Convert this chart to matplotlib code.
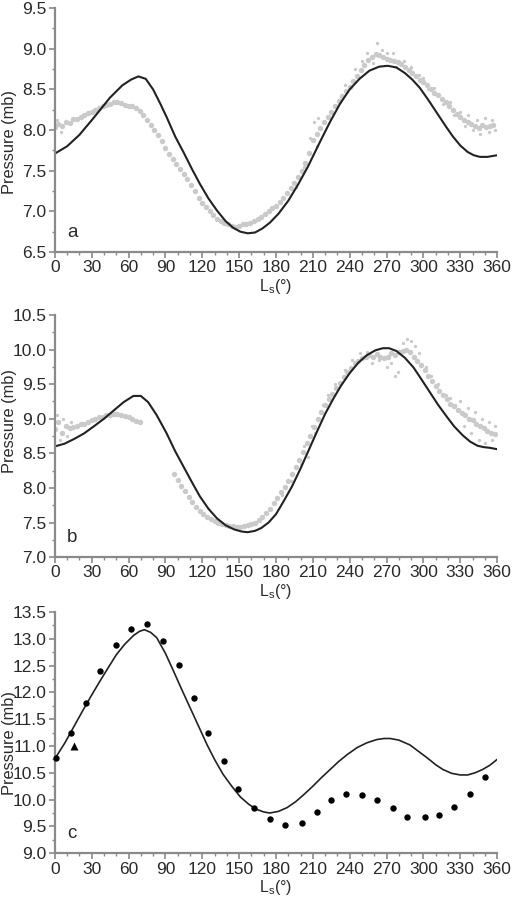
import numpy as np
import matplotlib
matplotlib.use("Agg")
import matplotlib.pyplot as plt
from matplotlib.ticker import MultipleLocator, FormatStrFormatter

plt.rcParams['font.family'] = ['Liberation Sans', 'DejaVu Sans']
plt.rcParams['mathtext.fontset'] = 'custom'
plt.rcParams['mathtext.rm'] = 'Liberation Sans'

# ---- panel a ----
a_obs_ls = [0, 3, 6, 9, 12, 15, 18, 21, 24, 27, 30, 33, 36, 39, 42, 45, 48, 51, 54, 57,
            60, 63, 66, 69, 72, 75, 78, 81, 84, 87, 90, 93, 96, 99, 102, 105, 108, 111, 114, 117,
            120, 123, 126, 129, 132, 135, 138, 141, 144, 147, 150, 153, 156, 159, 162, 165, 168, 171, 174, 177,
            180, 183, 186, 189, 192, 195, 198, 201, 204, 207, 210, 213, 216, 219, 222, 225, 228, 231, 234, 237,
            240, 243, 246, 249, 252, 255, 258, 261, 264, 267, 270, 273, 276, 279, 282, 285, 288, 291, 294, 297,
            300, 303, 306, 309, 312, 315, 318, 321, 324, 327, 330, 333, 336, 339, 342, 345, 348, 351, 354, 357]
a_obs_p = [8.04, 8.07, 8.05, 8.10, 8.09, 8.13, 8.14, 8.16, 8.18, 8.21, 8.22, 8.25, 8.27, 8.29, 8.31, 8.32, 8.34, 8.34, 8.33, 8.31,
           8.30, 8.29, 8.27, 8.23, 8.18, 8.12, 8.06, 8.00, 7.94, 7.86, 7.78, 7.71, 7.64, 7.58, 7.52, 7.46, 7.40, 7.33, 7.25, 7.17,
           7.10, 7.05, 7.00, 6.95, 6.91, 6.88, 6.86, 6.84, 6.82, 6.81, 6.82, 6.84, 6.85, 6.86, 6.88, 6.90, 6.93, 6.97, 7.00, 7.04,
           7.07, 7.12, 7.17, 7.23, 7.29, 7.35, 7.42, 7.50, 7.60, 7.72, 7.88, 7.95, 8.03, 8.10, 8.16, 8.22, 8.30, 8.36, 8.42, 8.48,
           8.53, 8.60, 8.66, 8.74, 8.80, 8.86, 8.90, 8.93, 8.92, 8.90, 8.88, 8.86, 8.85, 8.84, 8.81, 8.78, 8.74, 8.70, 8.66, 8.62,
           8.59, 8.55, 8.51, 8.46, 8.43, 8.38, 8.34, 8.29, 8.25, 8.20, 8.16, 8.12, 8.10, 8.07, 8.05, 8.03, 8.06, 8.04, 8.05, 8.06]
a_extra_ls = [2, 5, 196, 203, 208, 211, 213, 214, 236, 244, 250, 254, 259, 262, 266, 270, 275, 278,
              284, 290, 296, 300, 304, 309, 316, 322, 325, 330, 334, 336, 340, 344, 346, 350, 353, 356, 358]
a_extra_p = [8.12, 7.98, 7.30, 7.55, 7.90, 8.10, 7.80, 8.15, 8.55, 8.75, 8.85, 8.95, 8.82, 9.07, 8.98, 8.95, 8.95, 8.78,
             8.85, 8.77, 8.68, 8.64, 8.50, 8.52, 8.32, 8.35, 8.18, 8.22, 8.05, 8.18, 8.00, 8.12, 7.95, 8.15, 7.98, 8.12, 8.00]
a_mod_ls = [0, 10, 20, 30, 37, 45, 55, 62, 68, 74, 80, 86, 91, 98, 105, 112, 118, 125, 132, 139,
            145, 151, 157, 163, 169, 175, 182, 190, 198, 206, 216, 224, 232, 240, 248, 256, 264, 271, 278, 285,
            291, 297, 304, 311, 318, 324, 330, 336, 341, 346, 352, 360]
a_mod_p = [7.71, 7.80, 7.94, 8.12, 8.25, 8.40, 8.55, 8.62, 8.66, 8.63, 8.50, 8.32, 8.16, 7.92, 7.72, 7.51, 7.34, 7.16, 7.01, 6.88,
           6.80, 6.75, 6.73, 6.74, 6.79, 6.86, 6.97, 7.13, 7.33, 7.55, 7.86, 8.10, 8.32, 8.50, 8.63, 8.73, 8.78, 8.79, 8.77, 8.70,
           8.62, 8.52, 8.37, 8.21, 8.05, 7.92, 7.81, 7.73, 7.69, 7.67, 7.67, 7.69]

# ---- panel b ----
b_obs_ls = [0, 3, 6, 9, 12, 15, 18, 21, 24, 27, 30, 33, 36, 39, 42, 45, 48, 51, 54, 57, 60, 63, 66, 69,
            97, 100, 103, 106, 109, 112, 115, 118, 121, 124, 127, 130, 133, 136, 139, 142, 145, 148, 151, 154,
            157, 160, 163, 166, 169, 172, 175, 178, 181, 184, 187, 190, 193, 196, 199, 202, 205, 208, 211, 214,
            217, 220, 223, 226, 229, 232, 235, 238, 241, 244, 247, 250, 253, 256, 259, 262, 265, 268, 271, 274,
            277, 280, 283, 286, 289, 292, 295, 298, 301, 304, 307, 310, 313, 316, 319, 322, 325, 328, 331, 334,
            337, 340, 343, 346, 349, 352, 355, 358]
b_obs_p = [8.85, 8.95, 8.80, 8.90, 8.86, 8.88, 8.90, 8.92, 8.93, 8.96, 8.98, 9.00, 9.02, 9.03, 9.05, 9.06, 9.07, 9.07, 9.06, 9.04, 9.02, 9.00, 8.97, 8.95,
           8.20, 8.12, 8.03, 7.95, 7.87, 7.79, 7.72, 7.67, 7.62, 7.58, 7.55, 7.52, 7.50, 7.48, 7.46, 7.45, 7.45, 7.44, 7.44, 7.45,
           7.46, 7.48, 7.50, 7.53, 7.58, 7.64, 7.70, 7.78, 7.86, 7.94, 8.02, 8.10, 8.20, 8.30, 8.40, 8.52, 8.65, 8.75, 8.88, 9.00,
           9.10, 9.20, 9.28, 9.36, 9.44, 9.52, 9.60, 9.68, 9.74, 9.80, 9.84, 9.88, 9.90, 9.92, 9.90, 9.93, 9.90, 9.88, 9.90, 9.95,
           9.92, 9.96, 9.98, 10.00, 9.97, 9.90, 9.84, 9.78, 9.70, 9.62, 9.55, 9.48, 9.40, 9.34, 9.28, 9.22, 9.18, 9.12, 9.08, 9.05,
           9.00, 8.98, 8.92, 8.90, 8.86, 8.82, 8.80, 8.78]
b_extra_ls = [2, 4, 7, 10, 13, 185, 192, 200, 203, 206, 209, 212, 218, 222, 228, 236, 242, 248, 254, 258, 264, 270, 274,
              277, 279, 283, 287, 290, 293, 296, 302, 306, 312, 318, 322, 326, 330, 333, 336, 339, 342, 345, 348, 350,
              353, 356, 358]
b_extra_p = [9.05, 8.70, 9.00, 8.75, 8.95, 7.90, 8.10, 8.35, 8.60, 8.45, 8.90, 8.80, 9.20, 9.35, 9.50, 9.70, 9.85, 9.95, 9.96, 9.80, 9.85, 9.75, 9.80,
             9.62, 9.68, 10.10, 10.15, 10.12, 10.05, 9.95, 9.75, 9.62, 9.50, 9.35, 9.30, 9.20, 9.25, 8.90, 9.15, 8.80, 9.10, 8.70, 9.00, 8.65,
             8.95, 8.70, 8.90]
b_mod_ls = [0, 8, 16, 24, 31, 40, 48, 56, 64, 70, 76, 83, 91, 98, 105, 112, 118, 125, 132, 139,
            146, 152, 157, 163, 168, 174, 180, 186, 193, 200, 207, 213, 220, 227, 233, 240, 247, 254, 261, 267,
            272, 278, 285, 292, 298, 305, 312, 319, 325, 332, 338, 344, 349, 354, 360]
b_mod_p = [8.60, 8.64, 8.71, 8.79, 8.88, 9.00, 9.12, 9.24, 9.33, 9.33, 9.24, 9.05, 8.79, 8.53, 8.30, 8.07, 7.88, 7.70, 7.56, 7.46,
           7.40, 7.37, 7.36, 7.38, 7.42, 7.50, 7.62, 7.80, 8.02, 8.28, 8.56, 8.80, 9.07, 9.30, 9.48, 9.66, 9.81, 9.92, 9.99, 10.02,
           10.02, 9.98, 9.88, 9.74, 9.58, 9.39, 9.20, 9.03, 8.89, 8.76, 8.67, 8.61, 8.59, 8.58, 8.56]

# ---- panel c ----
c_obs_ls = [1, 13, 25, 37, 50, 62, 75, 88, 101, 113, 125, 138, 149, 162, 175, 187, 201, 213, 225, 237,
            250, 262, 275, 287, 301, 313, 325, 338, 350]
c_obs_p = [10.77, 11.25, 11.81, 12.39, 12.88, 13.18, 13.27, 12.96, 12.52, 11.89, 11.25, 10.72, 10.20, 9.85, 9.63, 9.53, 9.57, 9.76, 9.99, 10.10,
           10.08, 9.99, 9.85, 9.67, 9.67, 9.72, 9.87, 10.10, 10.42]
c_tri_ls = [16]
c_tri_p = [11.0]
c_mod_ls = [0, 8, 16, 23, 30, 37, 44, 50, 57, 64, 69, 73, 78, 83, 90, 96, 103, 110, 117, 124,
            130, 137, 144, 151, 158, 164, 170, 175, 182, 189, 196, 203, 210, 217, 224, 231, 238, 246, 254, 262,
            268, 273, 280, 289, 296, 303, 310, 316, 323, 330, 336, 342, 348, 354, 360]
c_mod_p = [10.76, 11.05, 11.38, 11.67, 11.95, 12.22, 12.48, 12.70, 12.90, 13.06, 13.14, 13.17, 13.12, 13.02, 12.73, 12.43, 12.07, 11.72, 11.37, 11.02,
           10.75, 10.47, 10.25, 10.05, 9.91, 9.82, 9.77, 9.75, 9.78, 9.85, 9.96, 10.10, 10.25, 10.41, 10.56, 10.71, 10.84, 10.97, 11.06, 11.12,
           11.14, 11.14, 11.11, 11.02, 10.90, 10.78, 10.65, 10.56, 10.49, 10.46, 10.46, 10.50, 10.56, 10.64, 10.75]

axis_grey = '#8a8a8a'
text_col = '#2a2a2a'
dot_grey = '#cacaca'

fig = plt.figure(figsize=(5.12, 9.0), dpi=100)
ax_a = fig.add_axes([0.107, 0.720, 0.864, 0.271])
ax_b = fig.add_axes([0.107, 0.381, 0.864, 0.269])
ax_c = fig.add_axes([0.107, 0.052, 0.864, 0.268])


def style(ax, ymin, ymax, letter, label_y):
    ax.set_xlim(0, 360)
    ax.set_ylim(ymin, ymax)
    for s in ['top', 'right']:
        ax.spines[s].set_visible(False)
    for s in ['left', 'bottom']:
        ax.spines[s].set_color(axis_grey)
        ax.spines[s].set_linewidth(1.6)
    ax.xaxis.set_major_locator(MultipleLocator(30))
    ax.xaxis.set_minor_locator(MultipleLocator(10))
    ax.yaxis.set_major_locator(MultipleLocator(0.5))
    ax.yaxis.set_minor_locator(MultipleLocator(0.25))
    ax.yaxis.set_major_formatter(FormatStrFormatter('%.1f'))
    ax.tick_params(which='major', direction='out', length=4, width=1.2, color=axis_grey,
                   labelsize=12.5, labelcolor=text_col, pad=2)
    ax.tick_params(which='minor', direction='out', length=2.5, width=1.0, color=axis_grey)
    ax.set_ylabel('Pressure (mb)', fontsize=11.8, color=text_col)
    ax.yaxis.set_label_coords(-0.085, label_y)
    ax.set_xlabel(r'L$_{\rm s}$(°)', fontsize=11.5, color=text_col, labelpad=1)
    ax.text(10, ymin + 0.08 * (ymax - ymin), letter, fontsize=13.5, color=text_col,
            ha='left', va='center')


ax_a.plot(a_obs_ls, a_obs_p, 'o', ms=3.9, mec='none', mfc=dot_grey, zorder=1)
ax_a.plot(a_extra_ls, a_extra_p, 'o', ms=2.4, mec='none', mfc=dot_grey, zorder=1)
ax_a.plot(a_mod_ls, a_mod_p, '-', color='#222222', lw=1.5, zorder=2)
style(ax_a, 6.5, 9.5, 'a', 0.45)

ax_b.plot(b_obs_ls, b_obs_p, 'o', ms=3.9, mec='none', mfc=dot_grey, zorder=1)
ax_b.plot(b_extra_ls, b_extra_p, 'o', ms=2.4, mec='none', mfc=dot_grey, zorder=1)
ax_b.plot(b_mod_ls, b_mod_p, '-', color='#222222', lw=1.5, zorder=2)
style(ax_b, 7.0, 10.5, 'b', 0.56)

ax_c.plot(c_mod_ls, c_mod_p, '-', color='#222222', lw=1.2, zorder=2)
ax_c.plot(c_obs_ls, c_obs_p, 'o', ms=4.6, mec='none', mfc='black', zorder=3, clip_on=False)
ax_c.plot(c_tri_ls, c_tri_p, '^', ms=6, mec='none', mfc='black', zorder=3)
style(ax_c, 9.0, 13.5, 'c', 0.456)

fig.savefig('out.png', dpi=100)
